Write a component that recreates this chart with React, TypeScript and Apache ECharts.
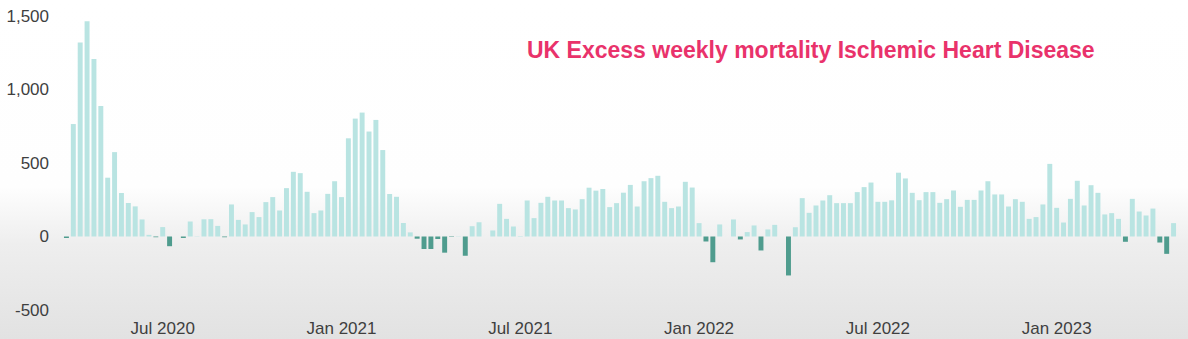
import React, { useEffect, useRef } from "react";
import * as echarts from "echarts";

const startWeek = "2020-03-27";

const excessDeaths: number[] = [
  -10, 765, 1320, 1465, 1207, 888, 400, 574, 296, 228,
  205, 116, 11, -5, 64, -66, 0, -10, 102, 2,
  117, 118, 72, -5, 218, 113, 82, 166, 132, 234,
  268, 177, 329, 440, 431, 304, 159, 177, 290, 376,
  268, 668, 802, 843, 714, 793, 588, 289, 270, 92,
  28, -15, -85, -85, -17, -110, -3, 2, -131, 70,
  97, 0, 41, 222, 120, 68, 3, 245, 125, 229,
  270, 245, 245, 193, 184, 254, 332, 312, 323, 200,
  227, 298, 351, 204, 376, 397, 413, 236, 193, 204,
  372, 333, 91, -34, -175, 82, 0, 116, -20, 30,
  75, -95, 48, 79, 0, -265, 63, 261, 161, 211,
  245, 281, 227, 227, 227, 302, 336, 367, 236, 236,
  246, 434, 395, 297, 247, 302, 302, 229, 254, 313,
  202, 249, 249, 313, 376, 286, 286, 204, 254, 236,
  120, 132, 218, 494, 195, 95, 256, 379, 211, 349,
  297, 150, 159, 120, -36, 256, 170, 143, 190, -41,
  -118, 91,
];

const tickWeeks: string[] = [
  "2020-07-03",
  "2021-01-01",
  "2021-07-02",
  "2021-12-31",
  "2022-07-01",
  "2022-12-30",
];
const tickLabels: string[] = [
  "Jul 2020",
  "Jan 2021",
  "Jul 2021",
  "Jan 2022",
  "Jul 2022",
  "Jan 2023",
];

const yTicks = { min: -500, max: 1500, interval: 500 };

const titleText = "UK Excess weekly mortality Ischemic Heart Disease";

function weekCategories(start: string, count: number): string[] {
  const base = Date.parse(start + "T00:00:00Z");
  const out: string[] = [];
  for (let i = 0; i < count; i++) {
    out.push(new Date(base + i * 7 * 86400000).toISOString().slice(0, 10));
  }
  return out;
}

const categories = weekCategories(startWeek, excessDeaths.length);

export default function App() {
  const ref = useRef<HTMLDivElement>(null);

  useEffect(() => {
    if (!ref.current) return;
    const chart = echarts.init(ref.current, undefined, { renderer: "svg" });
    const font = "'Liberation Sans', Arial, Helvetica, sans-serif";
    chart.setOption({
      animation: false,
      backgroundColor: "transparent",
      textStyle: { fontFamily: font },
      grid: {
        left: 63,
        right: 11,
        top: 16,
        bottom: 29,
        containLabel: false,
        outerBoundsMode: "none",
      },
      xAxis: {
        type: "category",
        data: categories,
        boundaryGap: true,
        axisLine: { show: false },
        axisTick: { show: false },
        splitLine: { show: false },
        axisLabel: {
          interval: (_i: number, v: string) => tickWeeks.indexOf(v) >= 0,
          formatter: (v: string) => {
            const k = tickWeeks.indexOf(v);
            return k >= 0 ? tickLabels[k] : "";
          },
          color: "#3f3f3f",
          fontSize: 17,
          fontFamily: font,
          margin: 10,
        },
      },
      yAxis: {
        type: "value",
        min: yTicks.min,
        max: yTicks.max,
        interval: yTicks.interval,
        axisLine: { show: false },
        axisTick: { show: false },
        splitLine: { show: false },
        axisLabel: {
          formatter: (v: number) => v.toLocaleString("en-US"),
          color: "#3f3f3f",
          fontSize: 17,
          fontFamily: font,
          margin: 14,
        },
      },
      graphic: [
        {
          type: "text",
          left: 527,
          top: 38,
          style: {
            text: titleText,
            font: "bold 23px 'Liberation Sans', Arial, sans-serif",
            fill: "#e9326b",
          },
        },
      ],
      series: [
        {
          type: "bar",
          barCategoryGap: "28%",
          data: excessDeaths.map((v) => ({
            value: v,
            itemStyle: { color: v >= 0 ? "#b9e4e2" : "#4f9c8e" },
          })),
        },
      ],
    });
    return () => chart.dispose();
  }, []);

  return (
    <div
      ref={ref}
      style={{
        position: "absolute",
        left: 0,
        top: 0,
        width: "1188px",
        height: "339px",
        background:
          "linear-gradient(to bottom, #ffffff 0%, #fefefe 55%, #eeeeee 72%, #e2e2e2 100%)",
      }}
    />
  );
}
